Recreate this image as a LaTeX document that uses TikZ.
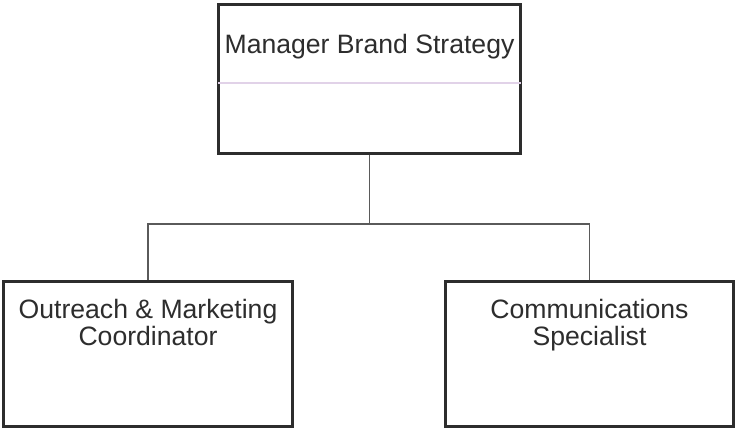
\documentclass[tikz,border=0pt]{standalone}
\usepackage{fontspec}
\setmainfont{Liberation Sans}
\usepackage{tikz}
\usetikzlibrary{positioning,calc}
\definecolor{boxgray}{RGB}{45,45,45}
\definecolor{textgray}{RGB}{45,45,45}
\definecolor{linkgray}{RGB}{90,90,90}
\definecolor{lilac}{RGB}{225,210,232}

\begin{document}
\begin{tikzpicture}[
        x=1pt, y=-1pt,
        box/.style={rectangle, draw=boxgray, fill=white, line width=3.2pt, inner sep=0pt, text=textgray,
                    font=\fontsize{26.6}{27.5}\selectfont},
        link/.style={draw=linkgray, line width=1.2pt},
        divider/.style={draw=lilac, line width=1.5pt}
    ]
    \useasboundingbox (0,0) rectangle (736,429);
    \node[box] (mgr) at (369.5,79) {\parbox[t][149pt][t]{302pt}{\centering\rule{0pt}{48.5pt}Manager Brand Strategy}};
    \node[box] (outreach) at (148,354) {\parbox[t][145pt][t]{289pt}{\centering\rule{0pt}{36.5pt}Outreach \& Marketing\\Coordinator}};
    \node[box] (comms) at (589.5,354) {\parbox[t][145pt][t]{288pt}{\centering\rule{0pt}{36.5pt}Communications\\Specialist}};
    \draw[divider] ($(mgr.west)+(1.5,4)$) -- ($(mgr.east)+(-1.5,4)$);
    \coordinate (bus) at (369.5,224);
    \draw[link] (mgr.south) -- (bus) -| (outreach.north);
    \draw[link] (bus) -| (comms.north);
\end{tikzpicture}
\end{document}
